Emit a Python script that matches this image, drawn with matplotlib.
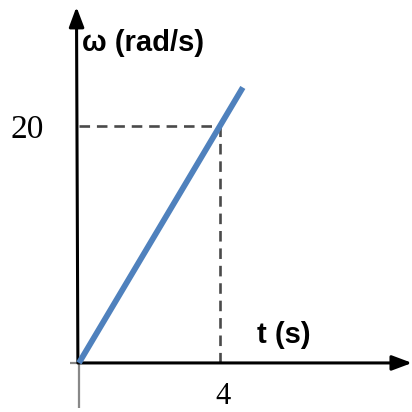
import matplotlib.pyplot as plt

# angular velocity grows linearly with time
t_line = [0, 4.65]
omega_line = [0, 23.25]

# marked point
t_mark = 4
omega_mark = 20
x_label = "t (s)"
y_label = "ω (rad/s)"

fig = plt.figure(figsize=(4.12, 4.12), dpi=100)
ax = fig.add_axes([0, 0, 1, 1])
ax.set_xlim(-2.24, 9.45)
ax.set_ylim(-4.14, 30.63)
ax.axis("off")

# short grey stubs through the origin
ax.plot([0, 0], [0, -3.8], color="#888888", lw=1.6, solid_capstyle="butt")
ax.plot([-0.25, 0], [0, 0], color="#888888", lw=1.6, solid_capstyle="butt")

# axes with arrow heads
arrow = dict(arrowstyle="-|>,head_length=1.2,head_width=0.45", color="black", lw=2.2,
             shrinkA=0, shrinkB=0)
ax.annotate("", xy=(-0.07, 30.05), xytext=(-0.03, 0), arrowprops=arrow)
ax.annotate("", xy=(9.45, 0), xytext=(0, 0), arrowprops=arrow)

# dashed guides to the marked point
ax.plot([0, t_mark], [omega_mark, omega_mark], color="#4a4a4a", lw=1.9,
        ls=(0, (4, 2.6)))
ax.plot([t_mark, t_mark], [omega_mark, 0], color="#4a4a4a", lw=1.9,
        ls=(0, (4, 2.6)))

ax.plot(t_line, omega_line, color="#4f81bd", lw=4.2, solid_capstyle="butt", zorder=5)

ax.text(-1.46, omega_mark - 0.3, "20", family="Liberation Serif", fontsize=24,
        ha="center", va="center")
ax.text(t_mark + 0.08, -2.85, "4", family="Liberation Serif", fontsize=22,
        ha="center", va="center")
ax.text(0.08, 27.0, y_label, family="Liberation Sans", fontweight="bold",
        fontsize=21, ha="left", va="center")
ax.text(5.06, 2.35, x_label, family="Liberation Sans", fontweight="bold",
        fontsize=21, ha="left", va="center")

fig.savefig("out.png", dpi=100)
